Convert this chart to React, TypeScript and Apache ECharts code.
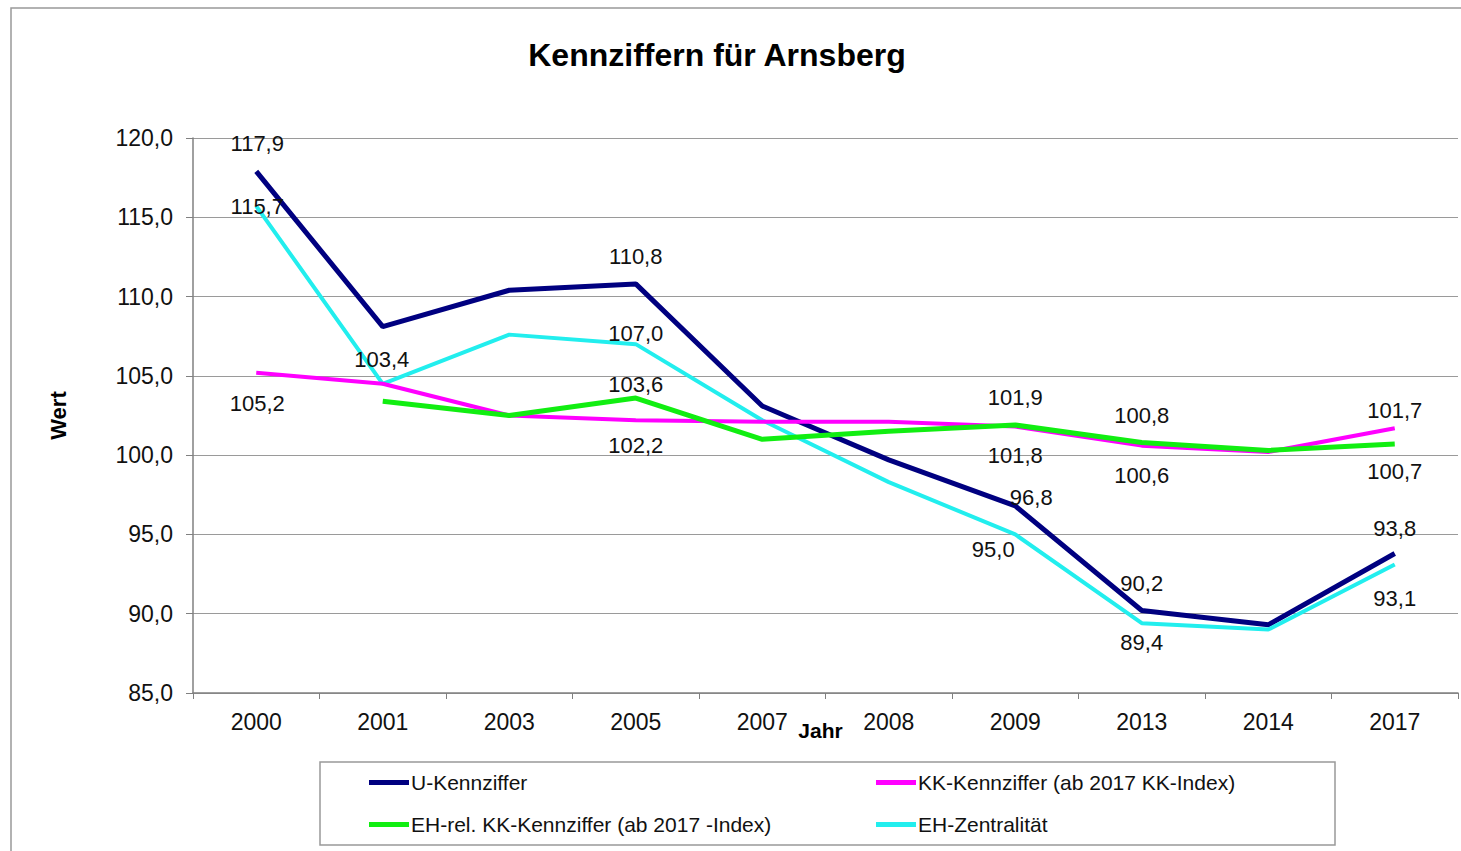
import React, { useEffect, useRef } from "react";
import * as echarts from "echarts";

const years = ["2000", "2001", "2003", "2005", "2007", "2008", "2009", "2013", "2014", "2017"];
const uKennziffer = [117.9, 108.1, 110.4, 110.8, 103.1, 99.7, 96.8, 90.2, 89.3, 93.8];
const kkKennziffer = [105.2, 104.5, 102.5, 102.2, 102.1, 102.1, 101.8, 100.6, 100.2, 101.7];
const ehRelKK = [null, 103.4, 102.5, 103.6, 101.0, 101.5, 101.9, 100.8, 100.3, 100.7];
const ehZentralitaet = [115.7, 104.5, 107.6, 107.0, 102.2, 98.3, 95.0, 89.4, 89.0, 93.1];
const yTicks = [85, 90, 95, 100, 105, 110, 115, 120];

const names = {
  u: "U-Kennziffer",
  kk: "KK-Kennziffer (ab 2017 KK-Index)",
  eh: "EH-rel. KK-Kennziffer (ab 2017 -Index)",
  z: "EH-Zentralität",
};

// label offsets [dx, dy] relative to the point (null = no label)
const uLabels = [[1, -28], null, null, [0, -27], null, null, [16, -8], [0, -27], null, [0, -25]];
const kkLabels = [[1, 31], null, null, [0, 25], null, null, [0, 29], [0, 30], null, [0, -18]];
const ehLabels = [null, [-1, -42], null, [0, -14], null, null, [0, -28], [0, -27], null, [0, 27]];
const zLabels = [[1, 0], null, null, [0, -11], null, null, [-22, 15], [0, 19], null, [0, 34]];

const fmt = (v: number) => v.toFixed(1).replace(".", ",");

function buildData(values: (number | null)[], offs: (number[] | null)[]) {
  return values.map((v, i) => {
    const o = offs[i];
    if (v === null) return null;
    if (!o) return { value: v };
    return {
      value: v,
      label: {
        show: true,
        position: "inside",
        offset: o,
        formatter: () => fmt(v),
        color: "#111",
        fontSize: 22,
        fontFamily: "Liberation Sans, Arial, sans-serif",
      },
    };
  });
}

export default function App() {
  const ref = useRef<HTMLDivElement>(null);
  useEffect(() => {
    if (!ref.current) return;
    const chart = echarts.init(ref.current, null, { renderer: "svg" });
    const font = "Liberation Sans, Arial, sans-serif";
    const lineSeries = (name: string, data: any[], color: string, width: number) => ({
      name,
      type: "line",
      data,
      color,
      symbol: "circle",
      symbolSize: 0.1,
      connectNulls: false,
      lineStyle: { color, width },
      itemStyle: { color },
      label: { show: false },
      emphasis: { disabled: true },
    });
    const legendCommon = {
      orient: "vertical",
      top: 767,
      itemGap: 21,
      itemWidth: 40,
      itemHeight: 5,
      icon: "rect",
      textStyle: { fontSize: 21, color: "#111", fontFamily: font, padding: [0, 0, 0, -3] },
    };
    chart.setOption({
      animation: false,
      backgroundColor: "#fff",
      title: {
        text: "Kennziffern für Arnsberg",
        left: 712,
        textAlign: "center",
        top: 34,
        textStyle: { fontSize: 32, fontWeight: "bold", color: "#000", fontFamily: font },
      },
      graphic: [
        {
          type: "rect",
          shape: { x: 11, y: 8, width: 1500, height: 900 },
          style: { fill: "none", stroke: "#999", lineWidth: 1.5 },
          z: -1,
        },
        {
          type: "rect",
          shape: { x: 320, y: 762, width: 1015, height: 83 },
          style: { fill: "none", stroke: "#999", lineWidth: 1.5 },
        },
      ],
      legend: [
        { ...legendCommon, data: [names.u, names.eh], left: 364 },
        { ...legendCommon, data: [names.kk, names.z], left: 871 },
      ],
      grid: { left: 193, right: 3, top: 138, bottom: 158, containLabel: false },
      xAxis: {
        type: "category",
        data: years,
        boundaryGap: true,
        name: "Jahr",
        nameLocation: "middle",
        nameGap: 27,
        nameMoveOverlap: false,
        nameTextStyle: { fontSize: 21, fontWeight: "bold", color: "#000", fontFamily: font, padding: [0, 0, 0, -10] },
        axisLine: { lineStyle: { color: "#808080", width: 1.5 } },
        axisTick: { show: true, alignWithLabel: false, length: 6, lineStyle: { color: "#808080" } },
        axisLabel: { margin: 17, fontSize: 23, color: "#111", fontFamily: font },
        splitLine: { show: false },
      },
      yAxis: {
        type: "value",
        min: yTicks[0],
        max: yTicks[yTicks.length - 1],
        interval: 5,
        name: "Wert",
        nameLocation: "middle",
        nameGap: 124,
        nameRotate: 90,
        nameTextStyle: { fontSize: 22, fontWeight: "bold", color: "#000", fontFamily: font },
        axisLine: { show: true, lineStyle: { color: "#808080", width: 1.5 } },
        axisTick: { show: true, length: 7, lineStyle: { color: "#808080" } },
        axisLabel: { margin: 20, fontSize: 23, color: "#111", fontFamily: font, formatter: (v: number) => fmt(v) },
        splitLine: { show: true, lineStyle: { color: "#9a9a9a", width: 1 } },
      },
      series: [
        lineSeries(names.u, buildData(uKennziffer, uLabels), "#000080", 5),
        lineSeries(names.z, buildData(ehZentralitaet, zLabels), "#22EEEE", 4),
        lineSeries(names.kk, buildData(kkKennziffer, kkLabels), "#FF00FF", 4),
        lineSeries(names.eh, buildData(ehRelKK, ehLabels), "#11EE11", 5),
      ],
    });
    return () => chart.dispose();
  }, []);
  return (
    <div
      ref={ref}
      style={{ position: "absolute", left: 0, top: 0, width: 1461, height: 851 }}
    />
  );
}
